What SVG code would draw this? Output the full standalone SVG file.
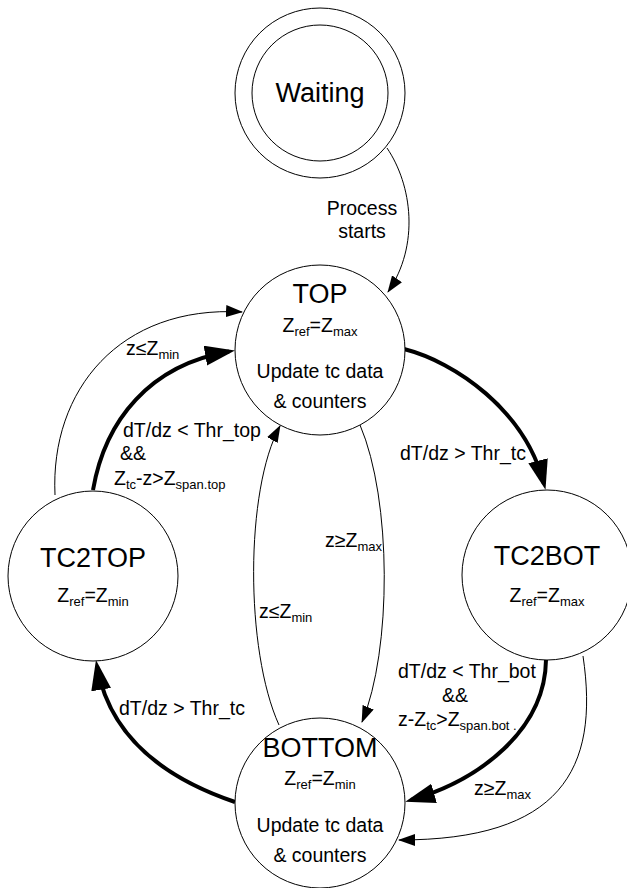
<svg xmlns="http://www.w3.org/2000/svg" width="627" height="888" viewBox="0 0 627 888">
<style>
text{font-family:"Liberation Sans",Arial,sans-serif;fill:#000}
.t{font-size:27px;text-anchor:middle}
.m{font-size:19.5px;text-anchor:middle}
.l{font-size:19.5px}
.s{font-size:13px}
.n{fill:#fff;stroke:#000;stroke-width:1}
.e{fill:none;stroke:#000;stroke-width:1}
.b{fill:none;stroke:#000;stroke-width:4}
</style>
<defs>
<marker id="at" markerUnits="userSpaceOnUse" markerWidth="18" markerHeight="12" refX="16" refY="6" orient="auto"><path d="M0,0 L17,6 L0,12 z" fill="#000"/></marker>
<marker id="ab" markerUnits="userSpaceOnUse" markerWidth="31" markerHeight="21" refX="24" refY="10" orient="auto"><path d="M0,0 L30,10 L0,20 z" fill="#000"/></marker>
</defs>
<rect width="627" height="888" fill="#fff"/>
<g id="connectors">
<path class="e" d="M387,148 C412,185 420,245 388,292" marker-end="url(#at)"/>
<path class="b" d="M404,349 C455,362 525,410 544,484" marker-end="url(#ab)"/>
<path class="e" d="M360,425 C392,500 392,650 362,722" marker-end="url(#at)"/>
<path class="e" d="M279,725 C245,650 245,490 280,426" marker-end="url(#at)"/>
<path class="b" d="M93,490 C105,420 150,365 229,351.5" marker-end="url(#ab)"/>
<path class="e" d="M55,495 C50,390 120,305 242,312" marker-end="url(#at)"/>
<path class="b" d="M235,802 C170,780 110,740 97,666" marker-end="url(#ab)"/>
<path class="b" d="M546,660 C545,730 480,780 411,800" marker-end="url(#ab)"/>
<path class="e" d="M583,656 C600,770 560,840 399,840" marker-end="url(#at)"/>
<text class="m" x="362" y="215">Process</text>
<text class="m" x="362" y="238">starts</text>
<text class="l" x="126" y="355">z≤Z<tspan class="s" dy="4">min</tspan></text>
<text class="l" x="123" y="437">dT/dz &lt; Thr_top</text>
<text class="l" x="120" y="460">&amp;&amp;</text>
<text class="l" x="114" y="485">Z<tspan class="s" dy="4">tc</tspan><tspan dy="-4">-z&gt;Z</tspan><tspan class="s" dy="4">span.top</tspan></text>
<text class="l" x="400" y="460">dT/dz &gt; Thr_tc</text>
<text class="l" x="325" y="547">z≥Z<tspan class="s" dy="4">max</tspan></text>
<text class="l" x="259" y="618">z≤Z<tspan class="s" dy="4">min</tspan></text>
<text class="l" x="119" y="715">dT/dz &gt; Thr_tc</text>
<text class="l" x="398" y="678">dT/dz &lt; Thr_bot</text>
<text class="l" x="442" y="702">&amp;&amp;</text>
<text class="l" x="398" y="726">z-Z<tspan class="s" dy="4">tc</tspan><tspan dy="-4">&gt;Z</tspan><tspan class="s" dy="4">span.bot .</tspan></text>
<text class="l" x="474" y="795">z≥Z<tspan class="s" dy="4">max</tspan></text>
</g>
<g id="waiting">
<circle class="n" cx="320" cy="93" r="85"/>
<circle class="n" cx="320" cy="93" r="68"/>
<text class="t" x="320" y="102">Waiting</text>
</g>
<g id="top">
<circle class="n" cx="320" cy="350" r="85"/>
<text class="t" x="320" y="303">TOP</text>
<text class="m" x="320" y="332">Z<tspan class="s" dy="4">ref</tspan><tspan dy="-4">=Z</tspan><tspan class="s" dy="4">max</tspan></text>
<text class="m" x="320" y="378">Update tc data</text>
<text class="m" x="320" y="408">&amp; counters</text>
</g>
<g id="tc2top">
<circle class="n" cx="93" cy="576" r="85"/>
<text class="t" x="93" y="567">TC2TOP</text>
<text class="m" x="93" y="602">Z<tspan class="s" dy="4">ref</tspan><tspan dy="-4">=Z</tspan><tspan class="s" dy="4">min</tspan></text>
</g>
<g id="tc2bot">
<circle class="n" cx="547" cy="575" r="85"/>
<text class="t" x="547" y="565">TC2BOT</text>
<text class="m" x="547" y="602">Z<tspan class="s" dy="4">ref</tspan><tspan dy="-4">=Z</tspan><tspan class="s" dy="4">max</tspan></text>
</g>
<g id="bottom">
<circle class="n" cx="320" cy="803" r="85"/>
<text class="t" x="320" y="757">BOTTOM</text>
<text class="m" x="320" y="785">Z<tspan class="s" dy="4">ref</tspan><tspan dy="-4">=Z</tspan><tspan class="s" dy="4">min</tspan></text>
<text class="m" x="320" y="832">Update tc data</text>
<text class="m" x="320" y="862">&amp; counters</text>
</g>
</svg>
